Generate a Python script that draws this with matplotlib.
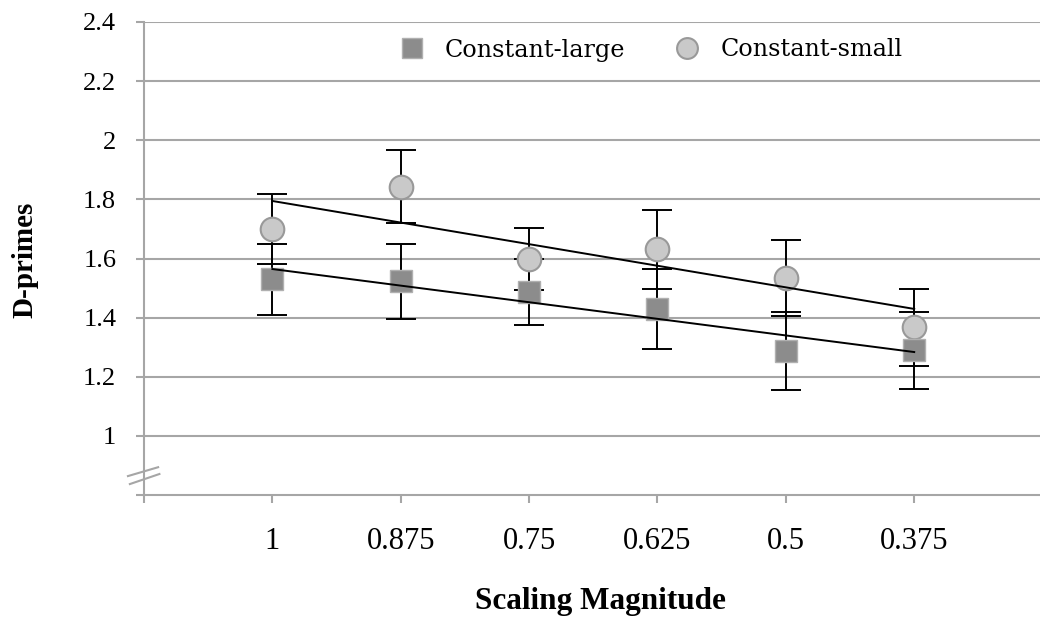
import numpy as np
import matplotlib
matplotlib.use("Agg")
import matplotlib.pyplot as plt
from matplotlib.lines import Line2D

# ---- data ----
categories = ["1", "0.875", "0.75", "0.625", "0.5", "0.375"]
large_vals = [1.530, 1.523, 1.486, 1.428, 1.287, 1.290]
large_err = [0.120, 0.126, 0.111, 0.135, 0.133, 0.130]
small_vals = [1.700, 1.843, 1.597, 1.631, 1.533, 1.368]
small_err = [0.118, 0.123, 0.105, 0.133, 0.128, 0.130]
y_ticks = [0.8, 1.0, 1.2, 1.4, 1.6, 1.8, 2.0, 2.2, 2.4]
y_labels = ["", "1", "1.2", "1.4", "1.6", "1.8", "2", "2.2", "2.4"]
series_names = ["Constant-large", "Constant-small"]

plt.rcParams["font.family"] = ["Liberation Serif", "DejaVu Serif"]
grid_c = "#a6a6a6"

fig = plt.figure(figsize=(10.4, 6.25), dpi=100)
ax = fig.add_axes([144 / 1040, 1 - 495 / 625, 1 - 144 / 1040, (495 - 22) / 625])

x = np.arange(1, len(categories) + 1)

ax.set_xlim(0, 6.98)
ax.set_ylim(0.8, 2.4)

# gridlines
for yv in y_ticks[1:]:
    ax.axhline(yv, color=grid_c, lw=1.5, zorder=0)

# error bars
ax.errorbar(x, small_vals, yerr=small_err, fmt="none", ecolor="black",
            elinewidth=1.4, capsize=11, capthick=1.4, zorder=2)
ax.errorbar(x, large_vals, yerr=large_err, fmt="none", ecolor="black",
            elinewidth=1.4, capsize=11, capthick=1.4, zorder=2)

# markers
ax.plot(x, small_vals, "o", ms=17, mfc="#c9c9c9", mec="#999999", mew=1.5,
        ls="none", zorder=3)
ax.plot(x, large_vals, "s", ms=16, mfc="#8c8c8c", mec="#b0b0b0", mew=1.0,
        ls="none", zorder=4)

# linear trend lines
for vals in (small_vals, large_vals):
    k, b = np.polyfit(x, vals, 1)
    ax.plot([x[0], x[-1]], [k * x[0] + b, k * x[-1] + b], color="black",
            lw=1.4, zorder=5)

# axes styling
for s in ["top", "right"]:
    ax.spines[s].set_visible(False)
for s in ["left", "bottom"]:
    ax.spines[s].set_color(grid_c)
    ax.spines[s].set_linewidth(1.5)

ax.set_yticks(y_ticks)
ax.set_yticklabels(y_labels, fontsize=19)
ax.tick_params(axis="y", length=6, width=1.5, color=grid_c, pad=14)

ax.set_xticks(np.arange(0, 7))
ax.set_xticklabels([""] + categories, fontsize=22)
ax.tick_params(axis="x", length=6, width=1.5, color=grid_c, pad=17)

# axis break marks
ax.plot([-0.125, 0.11], [0.864, 0.894], color=grid_c, lw=1.5,
        clip_on=False, zorder=6)
ax.plot([-0.11, 0.12], [0.837, 0.871], color=grid_c, lw=1.5,
        clip_on=False, zorder=6)

fig.text(25 / 1040, 1 - 260 / 625, "D-primes", rotation=90, ha="center",
         va="center", fontsize=21, fontweight="bold")
fig.text(600 / 1040, 1 - 601 / 625, "Scaling Magnitude", ha="center",
         va="center", fontsize=22.5, fontweight="bold")

handles = [
    Line2D([], [], marker="s", ls="none", ms=14, mfc="#8c8c8c", mec="#b0b0b0"),
    Line2D([], [], marker="o", ls="none", ms=15, mfc="#c9c9c9", mec="#999999", mew=1.5),
]
fig.legend(handles, series_names, loc="center", ncol=2,
           bbox_to_anchor=(650 / 1040, 1 - 50 / 625), frameon=False,
           prop={"family": ["DejaVu Serif"], "size": 17.2},
           handletextpad=0.78, columnspacing=2.0, handlelength=1.2)

fig.savefig("out.png", dpi=100)
